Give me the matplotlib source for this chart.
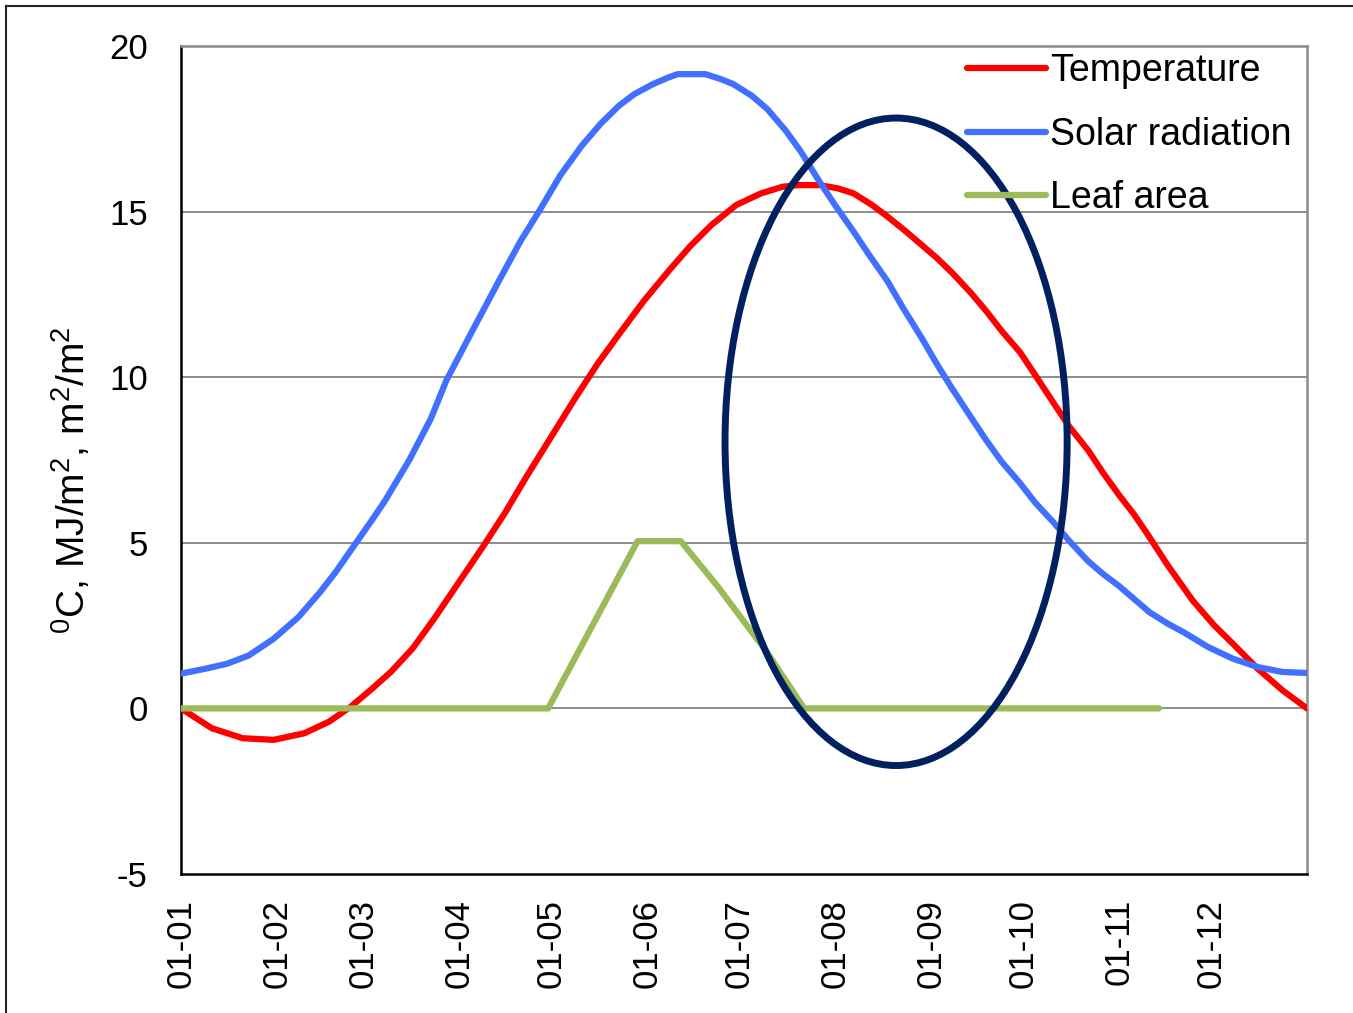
import matplotlib
matplotlib.use("Agg")
import matplotlib.pyplot as plt
from matplotlib.patches import Ellipse
from matplotlib.lines import Line2D

plt.rcParams['font.family'] = ['Liberation Sans', 'DejaVu Sans']
plt.rcParams['mathtext.fontset'] = 'custom'
plt.rcParams['mathtext.rm'] = 'Liberation Sans'
plt.rcParams['mathtext.it'] = 'Liberation Sans:italic'

# ---- data (day of year) ----
temp_days = [0, 10, 20, 30, 40, 48, 55, 62, 68, 75, 82, 90, 98, 105, 112, 120, 128, 135,
             142, 150, 158, 165, 172, 180, 188, 195, 200, 207, 213, 218, 224, 229, 235,
             240, 245, 250, 256, 261, 266, 272, 277, 283, 288, 294, 299, 304, 309, 313,
             320, 328, 335, 341, 349, 357, 365]
temp_vals = [0.0, -0.6, -0.9, -0.95, -0.75, -0.4, 0.05, 0.6, 1.1, 1.8, 2.7, 3.8, 4.9, 5.9,
             7.0, 8.2, 9.4, 10.4, 11.3, 12.3, 13.2, 13.95, 14.6, 15.2, 15.55, 15.75, 15.8,
             15.8, 15.7, 15.55, 15.2, 14.85, 14.4, 14.0, 13.6, 13.15, 12.55, 12.0, 11.4,
             10.75, 10.05, 9.2, 8.5, 7.8, 7.1, 6.45, 5.85, 5.3, 4.3, 3.25, 2.5, 1.95, 1.2,
             0.55, 0.0]

solar_days = [0, 8, 15, 22, 30, 38, 45, 50, 56, 62, 66, 74, 81, 86, 95, 103, 110, 116, 123,
              130, 136, 142, 147, 153, 158, 161, 170, 175, 179, 185, 190, 196, 201, 207,
              212, 218, 223, 229, 234, 240, 245, 250, 256, 261, 266, 272, 277, 283, 288,
              294, 299, 304, 309, 314, 320, 325, 333, 341, 349, 357, 365]
solar_vals = [1.05, 1.2, 1.35, 1.6, 2.1, 2.75, 3.5, 4.1, 4.9, 5.7, 6.25, 7.5, 8.75, 9.9,
              11.5, 12.9, 14.1, 15.0, 16.1, 17.0, 17.65, 18.2, 18.55, 18.85, 19.05, 19.15,
              19.15, 19.0, 18.85, 18.5, 18.1, 17.45, 16.8, 15.9, 15.2, 14.4, 13.7, 12.9,
              12.1, 11.2, 10.4, 9.65, 8.8, 8.1, 7.45, 6.8, 6.2, 5.6, 5.05, 4.45, 4.05, 3.7,
              3.3, 2.9, 2.55, 2.3, 1.85, 1.5, 1.25, 1.1, 1.07]

leaf_days = [0, 119, 148, 162, 174, 190, 202, 317]
leaf_vals = [0.0, 0.0, 5.05, 5.05, 3.68, 1.69, 0.0, 0.0]

month_start = [0, 31, 59, 90, 120, 151, 181, 212, 243, 273, 304, 334]
month_labels = ['01-01', '01-02', '01-03', '01-04', '01-05', '01-06',
                '01-07', '01-08', '01-09', '01-10', '01-11', '01-12']
y_ticks = [-5, 0, 5, 10, 15, 20]

# highlight ellipse (data coords)
ell_center = (231.8, 8.05)
ell_width = 110.9
ell_height = 19.55

# ---- figure ----
fig = plt.figure(figsize=(13.53, 10.13), dpi=100)
ax = fig.add_axes([181/1353, 1-874/1013, (1307-181)/1353, (874-46)/1013])

lw = 4.5
ax.plot(temp_days, temp_vals, color='#FF0000', lw=lw, label='Temperature', solid_capstyle='round', zorder=3)
ax.plot(solar_days, solar_vals, color='#4170FF', lw=lw, label='Solar radiation', solid_capstyle='round', zorder=3)
ax.plot(leaf_days, leaf_vals, color='#9BBB59', lw=lw, label='Leaf area', solid_capstyle='round', zorder=3)

ax.set_xlim(0, 365)
ax.set_ylim(-5, 20)
ax.set_yticks(y_ticks)
ax.set_yticklabels([str(v) for v in y_ticks])
ax.set_xticks(month_start)
ax.set_xticklabels(month_labels, rotation=90)
ax.tick_params(axis='both', length=0, labelsize=25, colors='black')
ax.tick_params(axis='y', pad=24)
ax.tick_params(axis='x', pad=18)

for v in [0, 5, 10, 15]:
    ax.axhline(v, color='#8c8c8c', lw=1.4, zorder=1)

ax.spines['left'].set_color('black')
ax.spines['bottom'].set_color('black')
ax.spines['left'].set_linewidth(1.8)
ax.spines['bottom'].set_linewidth(1.8)
ax.spines['top'].set_color('#8c8c8c')
ax.spines['right'].set_color('#8c8c8c')
ax.spines['top'].set_linewidth(1.8)
ax.spines['right'].set_linewidth(1.8)

leg = ax.legend(loc='upper right', bbox_to_anchor=(0.995, 1.003), frameon=False, fontsize=27,
                handlelength=2.1, handletextpad=0.13, labelspacing=0.74, borderaxespad=0.25,
                borderpad=0.0)

ell = Ellipse(ell_center, ell_width, ell_height, fill=False, edgecolor='#002060', lw=5, zorder=5)
ax.add_patch(ell)

fig.text(72/1353, 1-480/1013, r'$^{0}$C, MJ/m$^{2}$, m$^{2}$/m$^{2}$', rotation=90,
         ha='center', va='center', fontsize=28)

# outer frame
fig.add_artist(Line2D([6/1353, 1.0], [1-6/1013, 1-6/1013], color='#222222', lw=1.5))
fig.add_artist(Line2D([6/1353, 6/1353], [0.0, 1-6/1013], color='#222222', lw=1.5))

fig.savefig('out.png', dpi=100)
